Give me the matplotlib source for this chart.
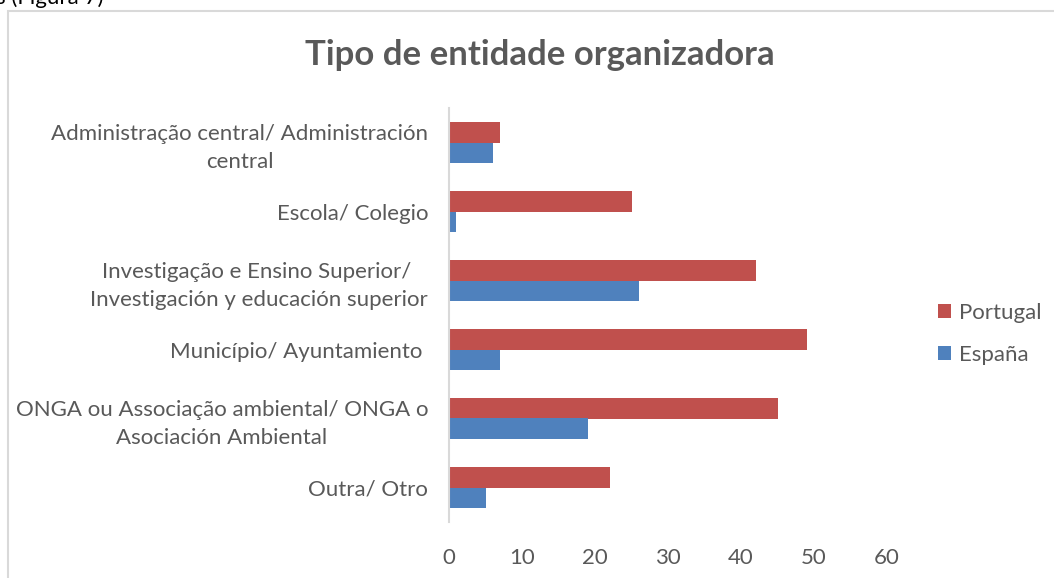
import matplotlib
matplotlib.use("Agg")
import matplotlib.pyplot as plt
from matplotlib.patches import Rectangle
import numpy as np

categories = [
    "Administração central/ Administración\ncentral",
    "Escola/ Colegio",
    "Investigação e Ensino Superior/ \nInvestigación y educación superior",
    "Município/ Ayuntamiento ",
    "ONGA ou Associação ambiental/ ONGA o\nAsociación Ambiental",
    "Outra/ Otro",
]
portugal = [7, 25, 42, 49, 45, 22]
espana = [6, 1, 26, 7, 19, 5]
series_names = ["Portugal", "España"]
xticks = [0, 10, 20, 30, 40, 50, 60]

plt.rcParams['font.family'] = ['Lato', 'DejaVu Sans']
gray = "#595959"
red = "#C0504D"
blue = "#4F81BD"

fig = plt.figure(figsize=(10.54, 5.78), dpi=100)
# chart border
fig.patches.append(Rectangle((8/1054, -0.05), 1.1, 1 - 11/578 + 0.05, transform=fig.transFigure,
                             fill=False, edgecolor="#D9D9D9", linewidth=1.5))
fig.text(-0.004, 1.0 + 0.004, "s (Figura 7)", fontsize=16, color="#000000", va="center", ha="left")

ax = fig.add_axes([449/1054, 1 - 522/578, (887-449)/1054, (522-108)/578])
y = np.arange(len(categories))
h = 0.29
ax.barh(y - h/2, portugal, height=h, color=red, label=series_names[0])
ax.barh(y + h/2, espana, height=h, color=blue, label=series_names[1])
ax.set_ylim(len(categories) - 0.5, -0.5)
ax.set_xlim(0, 60)
ax.set_xticks(xticks)
ax.set_xticklabels([str(t) for t in xticks])
ax.set_yticks(y)
ax.set_yticklabels(categories, multialignment="center", linespacing=1.5)
for s in ["top", "right", "bottom"]:
    ax.spines[s].set_visible(False)
ax.spines["left"].set_color("#D9D9D9")
ax.spines["left"].set_linewidth(1.5)
ax.tick_params(axis="both", length=0, colors=gray, labelsize=16)
ax.tick_params(axis="y", pad=15)
ax.tick_params(axis="x", pad=19)

fig.text(540/1054, 1 - 55/578, "Tipo de entidade organizadora", fontsize=25, fontweight="bold",
         color=gray, ha="center", va="center")

leg = ax.legend(loc="center left", bbox_to_anchor=(1.07, 0.455), frameon=False, fontsize=16,
                handlelength=0.6, handleheight=0.6, handletextpad=0.35, labelspacing=1.0,
                labelcolor=gray)

fig.savefig("out.png", dpi=100)
